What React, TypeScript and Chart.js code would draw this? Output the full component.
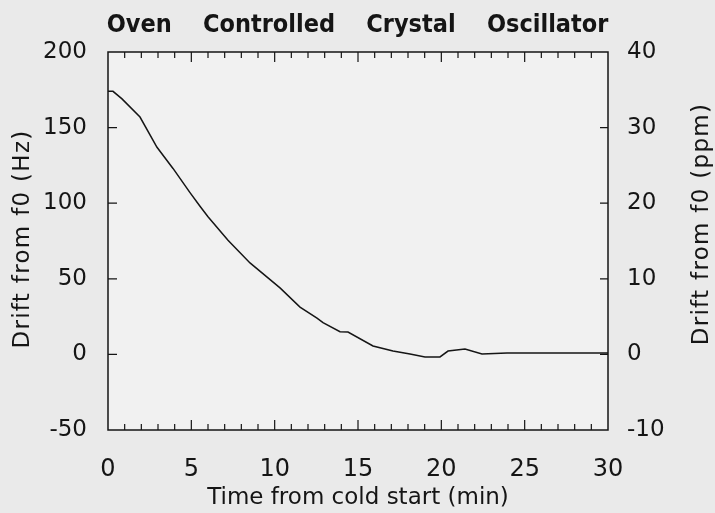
import React, { useEffect, useRef } from 'react';
import { Chart, registerables } from 'chart.js';

Chart.register(...registerables);

// ---- data ----
const timeMin = [0, 0.3, 0.84, 1.92, 2.94, 3.9, 4.92, 5.52, 6.0, 7.2, 8.52, 10.32, 11.52, 12.54, 12.9, 13.92, 14.4, 15.9, 17.1, 18.12, 19.02, 19.92, 20.4, 21.42, 22.44, 23.94, 30];
const driftHz = [174, 174, 169, 157, 137, 123, 107, 98, 91, 75.5, 60.5, 44, 31.3, 24, 21, 15, 14.8, 5.6, 2.2, 0.3, -1.7, -1.7, 2.2, 3.6, 0.3, 0.9, 0.9];

const xTickLabels = [0, 5, 10, 15, 20, 25, 30];
const hzTicks = [-50, 0, 50, 100, 150, 200];
const ppmTicks = [-10, 0, 10, 20, 30, 40];

const titleText = 'Oven    Controlled    Crystal    Oscillator';
const xTitle = 'Time from cold start (min)';
const leftTitle = 'Drift from f0 (Hz)';
const rightTitle = 'Drift from f0 (ppm)';

const FONT = '"DejaVu Sans", Verdana, sans-serif';
const TITLE_FONT = '"DejaVu Sans Condensed", "DejaVu Sans", Verdana, sans-serif';
const INK = '#151515';

function sideTitle(ctx: any, text: string, cx: number, cy: number) {
  ctx.save();
  ctx.translate(cx, cy);
  ctx.rotate(-Math.PI / 2);
  ctx.fillStyle = INK;
  ctx.font = `23px ${FONT}`;
  try { ctx.letterSpacing = '1.3px'; } catch (e) { /* ignore */ }
  ctx.textAlign = 'center';
  ctx.textBaseline = 'middle';
  ctx.fillText(text, 0, 0);
  ctx.restore();
}

const framePlugin = {
  id: 'framePlugin',
  beforeDraw(chart: any) {
    const { ctx, chartArea: a, width, height } = chart;
    ctx.save();
    ctx.fillStyle = '#eaeaea';
    ctx.fillRect(0, 0, width, height);
    ctx.fillStyle = '#f1f1f1';
    ctx.fillRect(a.left, a.top, a.right - a.left, a.bottom - a.top);
    ctx.restore();
  },
  afterDraw(chart: any) {
    const { ctx, chartArea: a, scales } = chart;
    const x = scales.x;
    const y = scales.y;
    const y2 = scales.y2;
    ctx.save();
    ctx.strokeStyle = INK;
    ctx.lineWidth = 1.5;
    ctx.strokeRect(a.left, a.top, a.right - a.left, a.bottom - a.top);
    ctx.lineWidth = 1.2;
    ctx.beginPath();
    for (let t = x.min + 1; t < x.max; t++) {
      const px = x.getPixelForValue(t);
      const len = t % 5 === 0 ? 10 : 6;
      ctx.moveTo(px, a.bottom);
      ctx.lineTo(px, a.bottom - len);
      ctx.moveTo(px, a.top);
      ctx.lineTo(px, a.top + len);
    }
    for (const v of hzTicks) {
      if (v === y.min || v === y.max) continue;
      const py = y.getPixelForValue(v);
      ctx.moveTo(a.left, py);
      ctx.lineTo(a.left + 9, py);
    }
    for (const v of ppmTicks) {
      if (v === y2.min || v === y2.max) continue;
      const py = y2.getPixelForValue(v);
      ctx.moveTo(a.right, py);
      ctx.lineTo(a.right - 8, py);
    }
    ctx.stroke();
    ctx.restore();
    const mid = (a.top + a.bottom) / 2;
    sideTitle(ctx, leftTitle, 23, mid - 2);
    sideTitle(ctx, rightTitle, 702, mid - 17);
  },
};

export default function App() {
  const ref = useRef<HTMLCanvasElement>(null);
  useEffect(() => {
    if (!ref.current) return;
    const chart = new Chart(ref.current, {
      type: 'line',
      data: {
        datasets: [
          {
            data: timeMin.map((t, i) => ({ x: t, y: driftHz[i] })),
            borderColor: INK,
            borderWidth: 1.5,
            pointRadius: 0,
            tension: 0,
            fill: false,
          },
        ],
      },
      plugins: [framePlugin],
      options: {
        animation: false,
        responsive: false,
        devicePixelRatio: 1,
        layout: { padding: 0 },
        plugins: {
          legend: { display: false },
          tooltip: { enabled: false },
          title: {
            display: true,
            text: titleText,
            color: INK,
            font: { family: TITLE_FONT, size: 25, weight: 'bold', lineHeight: 1.2 },
            padding: { top: 10, bottom: 12 },
          },
        },
        scales: {
          x: {
            type: 'linear',
            position: 'bottom',
            min: 0,
            max: 30,
            afterFit: (s: any) => { s.height = 83; },
            afterBuildTicks: (s: any) => { s.ticks = xTickLabels.map((v) => ({ value: v })); },
            grid: { display: false, drawTicks: false },
            border: { display: false },
            ticks: { color: INK, font: { family: FONT, size: 24 }, padding: 25, maxRotation: 0, autoSkip: false },
            title: { display: true, text: xTitle, color: INK, font: { family: FONT, size: 23, lineHeight: 1.2 }, padding: { top: 0, bottom: 1 } },
          },
          y: {
            type: 'linear',
            position: 'left',
            min: -50,
            max: 200,
            afterFit: (s: any) => { s.width = 108; },
            afterBuildTicks: (s: any) => { s.ticks = hzTicks.map((v) => ({ value: v })); },
            grid: { display: false, drawTicks: false },
            border: { display: false },
            ticks: { color: INK, font: { family: FONT, size: 23 }, padding: 21, autoSkip: false },
          },
          y2: {
            type: 'linear',
            position: 'right',
            min: -10,
            max: 40,
            afterFit: (s: any) => { s.width = 107; },
            afterBuildTicks: (s: any) => { s.ticks = ppmTicks.map((v) => ({ value: v })); },
            grid: { display: false, drawTicks: false },
            border: { display: false },
            ticks: { color: INK, font: { family: FONT, size: 23 }, padding: 19, autoSkip: false },
          },
        },
      } as any,
    });
    return () => chart.destroy();
  }, []);
  return (
    <div style={{ position: 'absolute', left: 0, top: 0, width: 715, height: 513 }}>
      <canvas ref={ref} width={715} height={513} style={{ display: 'block', width: 715, height: 513 }} />
    </div>
  );
}
